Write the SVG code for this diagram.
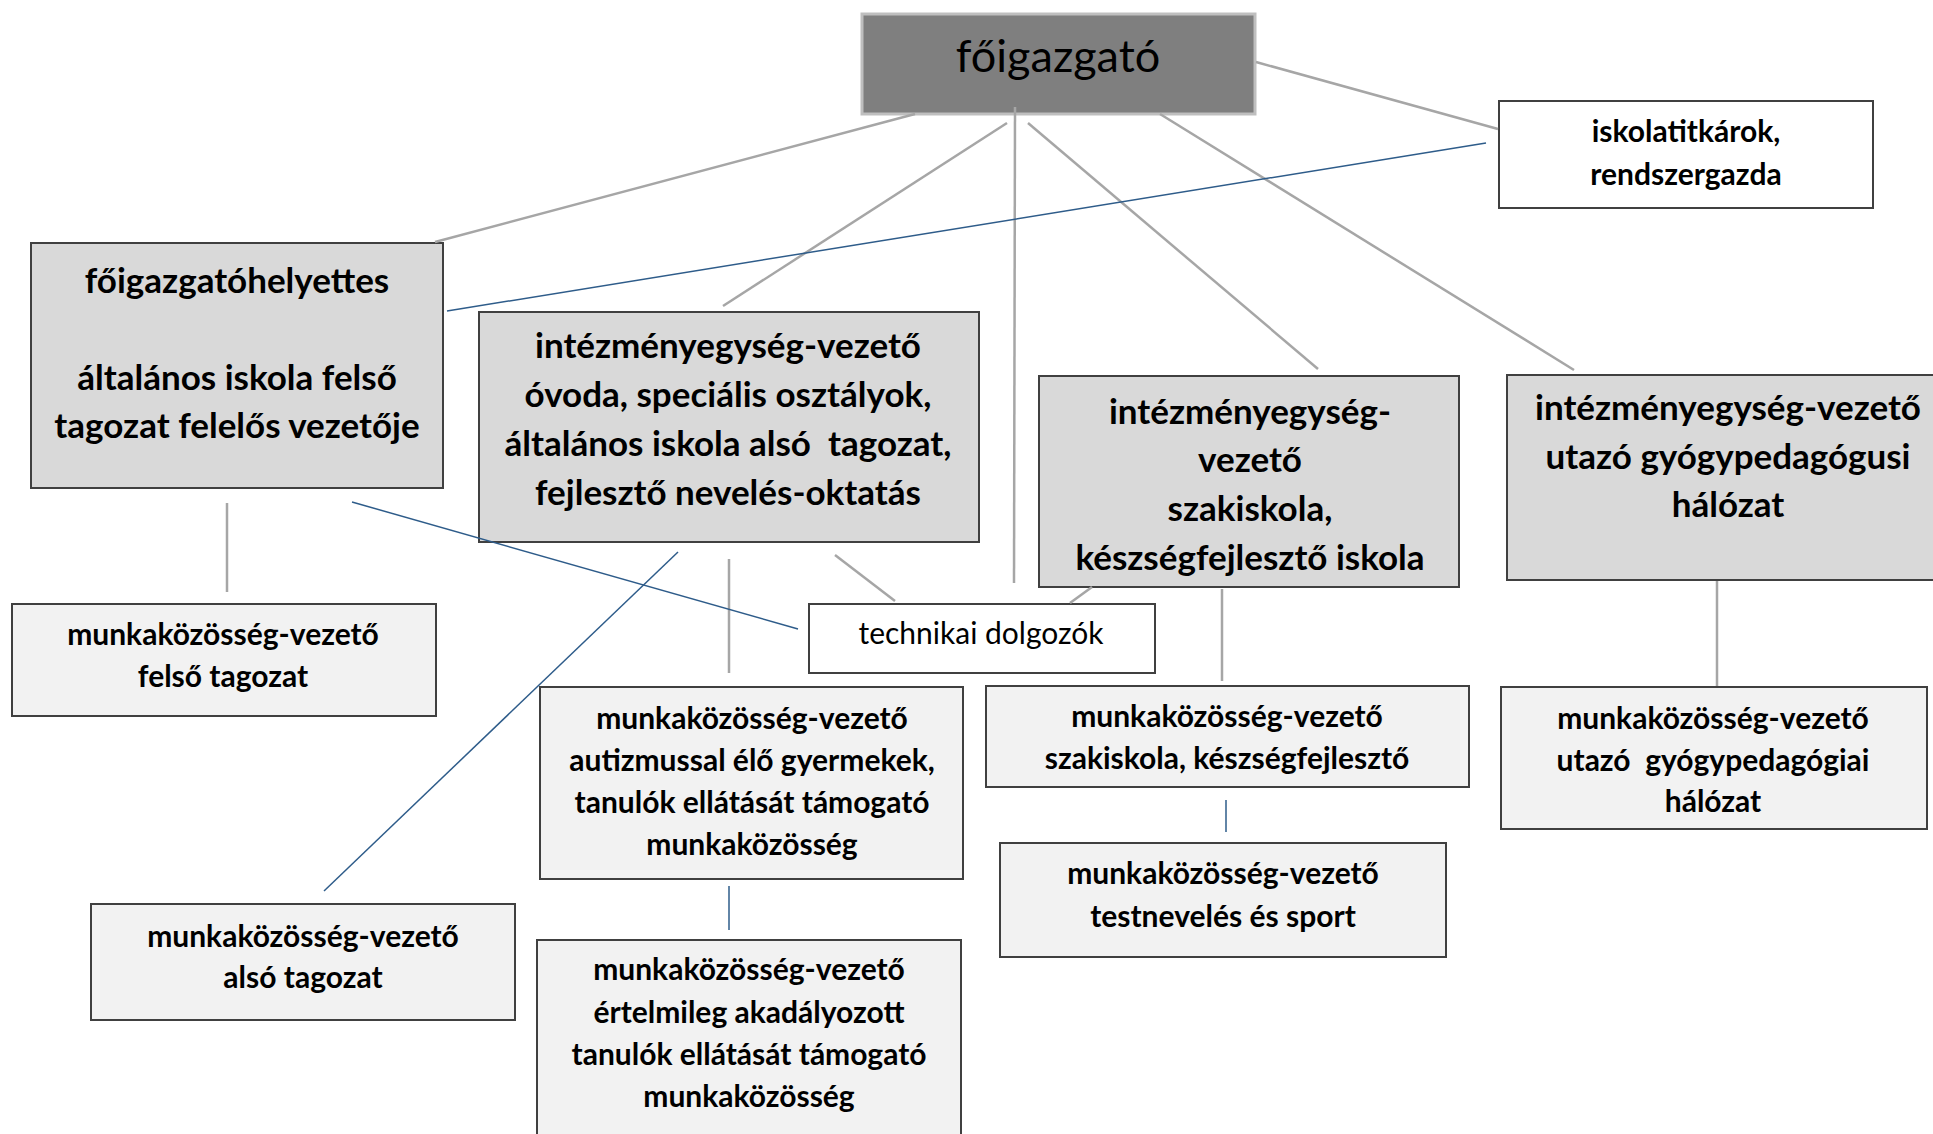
<svg xmlns="http://www.w3.org/2000/svg" width="1933" height="1134" viewBox="0 0 1933 1134">
<style>
.box{stroke:#404040;stroke-width:2}
.d{fill:#d9d9d9}
.l{fill:#f2f2f2}
.w{fill:#ffffff}
.t{font-family:Lato,"Liberation Sans",sans-serif;fill:#000;text-anchor:middle;white-space:pre}
.b{font-weight:bold}
.big{font-size:35px}
.mid{font-size:30px}
.g{stroke:#a6a6a6;stroke-width:2.5;fill:none}
.bl{stroke:#2e5c8a;stroke-width:1.5;fill:none}
</style>
<rect width="1933" height="1134" fill="#ffffff"/>
<g id="n-main">
<rect x="862" y="14" width="393" height="100" fill="#7f7f7f" stroke="#bfbfbf" stroke-width="3"/>
<text class="t" x="1058" y="72" font-size="45">főigazgató</text>
</g>
<g id="n-titkar">
<rect class="box w" x="1499" y="101" width="374" height="107"/>
<text class="t b mid" x="1686" y="142">iskolatitkárok,</text>
<text class="t b mid" x="1686" y="185">rendszergazda</text>
</g>
<g id="n-helyettes">
<rect class="box d" x="31" y="243" width="412" height="245"/>
<text class="t b big" x="237" y="293">főigazgatóhelyettes</text>
<text class="t b big" x="237" y="390">általános iskola felső</text>
<text class="t b big" x="237" y="438">tagozat felelős vezetője</text>
</g>
<g id="n-felso">
<rect class="box l" x="12" y="604" width="424" height="112"/>
<text class="t b mid" x="223" y="645">munkaközösség-vezető</text>
<text class="t b mid" x="223" y="687">felső tagozat</text>
</g>
<g id="n-ovoda">
<rect class="box d" x="479" y="312" width="500" height="230"/>
<text class="t b big" x="728" y="358">intézményegység-vezető</text>
<text class="t b big" x="728" y="407">óvoda, speciális osztályok,</text>
<text class="t b big" x="728" y="456">általános iskola alsó  tagozat,</text>
<text class="t b big" x="728" y="505">fejlesztő nevelés-oktatás</text>
</g>
<g id="n-szakiskola">
<rect class="box d" x="1039" y="376" width="420" height="211"/>
<text class="t b big" x="1250" y="424">intézményegység-</text>
<text class="t b big" x="1250" y="472">vezető</text>
<text class="t b big" x="1250" y="521">szakiskola,</text>
<text class="t b big" x="1250" y="570">készségfejlesztő iskola</text>
</g>
<g id="n-utazo">
<rect class="box d" x="1507" y="375" width="440" height="205"/>
<text class="t b big" x="1728" y="420">intézményegység-vezető</text>
<text class="t b big" x="1728" y="469">utazó gyógypedagógusi</text>
<text class="t b big" x="1728" y="517">hálózat</text>
</g>
<g id="n-technikai">
<rect class="box w" x="809" y="604" width="346" height="69"/>
<text class="t mid" x="981" y="644">technikai dolgozók</text>
</g>
<g id="n-autizmus">
<rect class="box l" x="540" y="687" width="423" height="192"/>
<text class="t b mid" x="752" y="729">munkaközösség-vezető</text>
<text class="t b mid" x="752" y="771">autizmussal élő gyermekek,</text>
<text class="t b mid" x="752" y="813">tanulók ellátását támogató</text>
<text class="t b mid" x="752" y="855">munkaközösség</text>
</g>
<g id="n-ertelmi">
<rect class="box l" x="537" y="940" width="424" height="210"/>
<text class="t b mid" x="749" y="980">munkaközösség-vezető</text>
<text class="t b mid" x="749" y="1023">értelmileg akadályozott</text>
<text class="t b mid" x="749" y="1065">tanulók ellátását támogató</text>
<text class="t b mid" x="749" y="1107">munkaközösség</text>
</g>
<g id="n-also">
<rect class="box l" x="91" y="904" width="424" height="116"/>
<text class="t b mid" x="303" y="947">munkaközösség-vezető</text>
<text class="t b mid" x="303" y="988">alsó tagozat</text>
</g>
<g id="n-mk-szak">
<rect class="box l" x="986" y="686" width="483" height="101"/>
<text class="t b mid" x="1227" y="727">munkaközösség-vezető</text>
<text class="t b mid" x="1227" y="769">szakiskola, készségfejlesztő</text>
</g>
<g id="n-testneveles">
<rect class="box l" x="1000" y="843" width="446" height="114"/>
<text class="t b mid" x="1223" y="884">munkaközösség-vezető</text>
<text class="t b mid" x="1223" y="927">testnevelés és sport</text>
</g>
<g id="n-mk-utazo">
<rect class="box l" x="1501" y="687" width="426" height="142"/>
<text class="t b mid" x="1713" y="729">munkaközösség-vezető</text>
<text class="t b mid" x="1713" y="771">utazó  gyógypedagógiai</text>
<text class="t b mid" x="1713" y="812">hálózat</text>
</g>
<g id="connectors">
<line class="g" x1="915" y1="114" x2="435" y2="242"/>
<line class="g" x1="1007" y1="123" x2="723" y2="306"/>
<line class="g" x1="1015" y1="107" x2="1014" y2="583"/>
<line class="g" x1="1028" y1="123" x2="1318" y2="369"/>
<line class="g" x1="1160" y1="114" x2="1574" y2="370"/>
<line class="g" x1="1256" y1="62" x2="1498" y2="129"/>
<line class="g" x1="227" y1="503" x2="227" y2="592"/>
<line class="g" x1="729" y1="559" x2="729" y2="673"/>
<line class="g" x1="835" y1="555" x2="895" y2="601"/>
<line class="g" x1="1092" y1="587" x2="1070" y2="603"/>
<line class="g" x1="1222" y1="589" x2="1222" y2="681"/>
<line class="g" x1="1717" y1="581" x2="1717" y2="686"/>
<line class="bl" x1="1486" y1="143" x2="447" y2="311"/>
<line class="bl" x1="352" y1="502" x2="798" y2="629"/>
<line class="bl" x1="678" y1="552" x2="324" y2="891"/>
<line class="bl" x1="729" y1="886" x2="729" y2="930"/>
<line class="bl" x1="1226" y1="800" x2="1226" y2="832"/>
</g>
</svg>
